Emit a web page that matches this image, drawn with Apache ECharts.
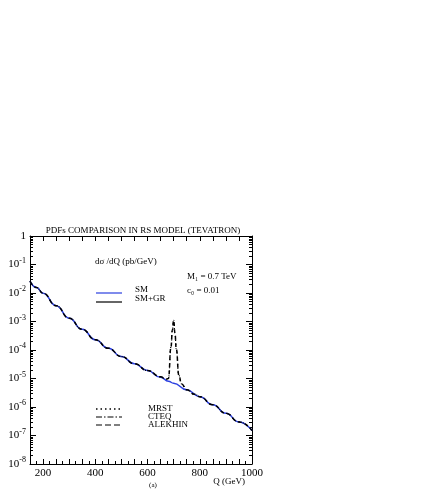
<!DOCTYPE html>
<html><head><meta charset="utf-8">
<script src="https://cdn.jsdelivr.net/npm/echarts@6/dist/echarts.min.js"></script>
<style>html,body{margin:0;background:#fff}#c{width:436px;height:491px}</style>
</head><body><div id="c"></div>
<script>
var qSM = [150,175,200,250,300,350,400,450,500,550,600,650,680,700,750,800,850,900,950,1000];
var sm  = [2.6e-2,1.55e-2,9.8e-3,3.6e-3,1.3e-3,5.3e-4,2.3e-4,1.15e-4,5.9e-5,3.3e-5,1.9e-5,1.1e-5,8e-6,6.8e-6,4e-6,2.3e-6,1.2e-6,6e-7,3e-7,1.5e-7];
var qGR = [150,175,200,250,300,350,400,450,500,550,600,650,670,680,690,695,700,705,710,720,730,750,780,800,850,900,950,1000];
var gr  = [2.6e-2,1.55e-2,9.8e-3,3.6e-3,1.3e-3,5.3e-4,2.3e-4,1.15e-4,5.9e-5,3.3e-5,1.9e-5,1.15e-5,9.5e-6,1e-5,1.3e-4,5e-4,1.1e-3,4e-4,1.1e-4,1.3e-5,6.5e-6,4e-6,2.8e-6,2.3e-6,1.2e-6,6e-7,3e-7,1.5e-7];
var sup = {'1':'','0.1':'-1','0.01':'-2','0.001':'-3','0.0001':'-4','0.00001':'-5','0.000001':'-6','1e-7':'-7','1e-8':'-8'};
var F = 'Liberation Serif, DejaVu Serif, serif';
function pair(a,b){return a.map(function(x,i){return [x,b[i]];});}
var chart = echarts.init(document.getElementById('c'));
chart.setOption({
  animation:false,
  grid:{left:30,top:236,width:222,height:228},
  xAxis:[{type:'value',min:150,max:1000,interval:50,
    axisLine:{lineStyle:{color:'#000'}},axisTick:{inside:true,length:5,lineStyle:{color:'#000'}},
    minorTick:{show:true,splitNumber:2,length:3,lineStyle:{color:'#000'}},
    splitLine:{show:false},
    axisLabel:{color:'#000',fontFamily:F,fontSize:11,margin:4,formatter:function(v){return v%200===0?v:'';}}},
   {type:'value',position:'top',min:150,max:1000,interval:50,
    axisLine:{lineStyle:{color:'#000'}},axisTick:{inside:true,length:5,lineStyle:{color:'#000'}},
    axisLabel:{show:false},splitLine:{show:false}}],
  yAxis:[{type:'log',min:1e-8,max:1,logBase:10,
    axisLine:{lineStyle:{color:'#000'}},axisTick:{inside:true,length:6,lineStyle:{color:'#000'}},
    minorTick:{show:true,splitNumber:9,length:3,lineStyle:{color:'#000'}},
    splitLine:{show:false},minorSplitLine:{show:false},
    axisLabel:{color:'#000',fontFamily:F,margin:4,formatter:function(v){
      var k=Object.keys(sup).find(function(s){return Math.abs(Math.log10(+s)-Math.log10(v))<0.01;});
      if(k==='1')return '{b|1}';
      return '{b|10}{s|'+sup[k]+'}';},
      rich:{b:{fontSize:11,fontFamily:F,color:'#000'},s:{fontSize:8,fontFamily:F,color:'#000',verticalAlign:'top',padding:[0,0,8,0]}}}},
   {type:'log',min:1e-8,max:1,position:'right',
    axisLine:{lineStyle:{color:'#000'}},axisTick:{inside:true,length:6,lineStyle:{color:'#000'}},
    minorTick:{show:true,splitNumber:9,length:3,lineStyle:{color:'#000'}},
    axisLabel:{show:false},splitLine:{show:false}}],
  series:[
    {type:'line',data:pair(qSM,sm),smooth:true,smoothMonotone:'x',symbol:'none',lineStyle:{color:'#2a3fe0',width:1.5}},
    {type:'line',data:pair(qGR,gr),smooth:true,smoothMonotone:'x',symbol:'none',lineStyle:{color:'#000',width:1.5,type:[4,3]}},
    {type:'line',data:pair(qGR,gr),smooth:true,smoothMonotone:'x',symbol:'none',lineStyle:{color:'#000',width:1.2,type:[1,3]}}
  ],
  graphic:[
    {type:'text',style:{text:'PDFs COMPARISON IN RS MODEL (TEVATRON)',x:143,y:226,font:'9px '+F,fill:'#000',textAlign:'center'}},
    {type:'text',style:{text:'dσ /dQ (pb/GeV)',x:95,y:257,font:'9px '+F,fill:'#000'}},
    {type:'text',style:{text:'M₁ = 0.7 TeV',x:187,y:272,font:'9px '+F,fill:'#000'}},
    {type:'text',style:{text:'c₀ = 0.01',x:187,y:286,font:'9px '+F,fill:'#000'}},
    {type:'line',shape:{x1:96,y1:293,x2:122,y2:293},style:{stroke:'#2a3fe0',lineWidth:1.2}},
    {type:'line',shape:{x1:96,y1:302,x2:122,y2:302},style:{stroke:'#000',lineWidth:1.2}},
    {type:'text',style:{text:'SM',x:135,y:285,font:'9px '+F,fill:'#000'}},
    {type:'text',style:{text:'SM+GR',x:135,y:294,font:'9px '+F,fill:'#000'}},
    {type:'line',shape:{x1:96,y1:409,x2:122,y2:409},style:{stroke:'#000',lineWidth:1.5,lineDash:[1.5,3]}},
    {type:'line',shape:{x1:96,y1:417,x2:122,y2:417},style:{stroke:'#000',lineWidth:1.2,lineDash:[6,2,1.5,2]}},
    {type:'line',shape:{x1:96,y1:425,x2:122,y2:425},style:{stroke:'#000',lineWidth:1.2,lineDash:[6,3]}},
    {type:'text',style:{text:'MRST',x:148,y:404,font:'9px '+F,fill:'#000'}},
    {type:'text',style:{text:'CTEQ',x:148,y:412,font:'9px '+F,fill:'#000'}},
    {type:'text',style:{text:'ALEKHIN',x:148,y:420,font:'9px '+F,fill:'#000'}},
    {type:'text',style:{text:'Q (GeV)',x:245,y:477,font:'9px '+F,fill:'#000',textAlign:'right'}},
    {type:'text',style:{text:'(a)',x:153,y:482,font:'7px '+F,fill:'#000',textAlign:'center'}}
  ]
});
</script></body></html>
